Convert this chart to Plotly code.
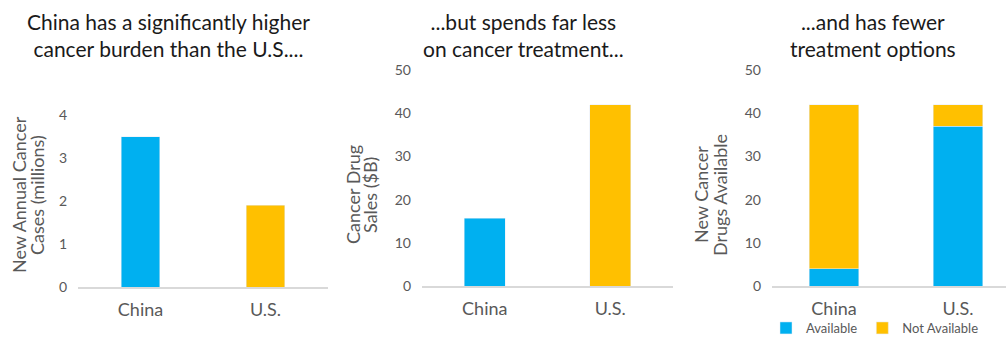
import plotly.graph_objects as go

W, H = 1006, 337

countries = ["China", "U.S."]
new_cases_millions = [3.5, 1.9]
drug_sales_bn = [15.7, 42]
drugs_available = [4, 37]
drugs_not_available = [38, 5]

titles = [
    "China has a significantly higher<br>cancer burden than the U.S....",
    "...but spends far less<br>on cancer treatment...",
    "...and has fewer<br>treatment options",
]
y_title_lines = [
    ["New Annual Cancer", "Cases (millions)"],
    ["Cancer Drug", "Sales ($B)"],
    ["New Cancer", "Drugs Available"],
]

BLUE = "#00B0F0"
GOLD = "#FFC000"
GRAY = "#595959"
FONT = "Lato"


def px_x(p):
    return p / W


def px_y(p):
    return (H - p) / H


fig = go.Figure()

fig.add_trace(go.Bar(x=countries, y=new_cases_millions, marker_color=[BLUE, GOLD],
                     width=0.31, xaxis="x", yaxis="y", showlegend=False))
fig.add_trace(go.Bar(x=countries, y=drug_sales_bn, marker_color=[BLUE, GOLD],
                     width=0.33, xaxis="x2", yaxis="y2", showlegend=False))
fig.add_trace(go.Bar(x=countries, y=drugs_available, marker_color=BLUE, name="Available",
                     width=0.40, xaxis="x3", yaxis="y3"))
fig.add_trace(go.Bar(x=countries, y=drugs_not_available, marker_color=GOLD, name="Not Available",
                     width=0.40, xaxis="x3", yaxis="y3"))

xcommon = dict(type="category", showgrid=False, showline=True, linecolor="#D9D9D9",
               linewidth=1.5, ticks="", ticklabelstandoff=6,
               tickfont=dict(family=FONT, size=18, color=GRAY), fixedrange=True)
ycommon = dict(showgrid=False, zeroline=False, showline=False, ticks="", ticklabelstandoff=10,
               tickfont=dict(family=FONT, size=14, color=GRAY), fixedrange=True)

layout = dict(
    width=W, height=H, margin=dict(l=0, r=0, t=0, b=0, autoexpand=False),
    paper_bgcolor="white", plot_bgcolor="white", barmode="stack",
    font=dict(family=FONT),
    xaxis=dict(xcommon, domain=[px_x(78), px_x(328)], range=[-0.5, 1.5], anchor="y"),
    yaxis=dict(ycommon, domain=[px_y(287), px_y(115)], range=[0, 4], dtick=1, anchor="x"),
    xaxis2=dict(xcommon, domain=[px_x(422), px_x(673)], range=[-0.5, 1.5], anchor="y2"),
    yaxis2=dict(ycommon, domain=[px_y(286), px_y(70)], range=[0, 50], dtick=10, anchor="x2"),
    xaxis3=dict(xcommon, domain=[px_x(772), px_x(1006)], range=[-0.5, 1.387], anchor="y3"),
    yaxis3=dict(ycommon, domain=[px_y(286), px_y(70)], range=[0, 50], dtick=10, anchor="x3"),
    showlegend=True,
    legend=dict(orientation="h", x=px_x(766), y=px_y(328), xanchor="left", yanchor="middle",
                traceorder="normal",
                font=dict(family=FONT, size=13, color=GRAY), itemwidth=30,
                tracegroupgap=0, bgcolor="rgba(0,0,0,0)"),
)
fig.update_layout(**layout)

title_x = [168, 523, 873]
ytitle_x = [[19, 37], [353, 370], [701, 720]]
for i in range(3):
    fig.add_annotation(text=titles[i], x=px_x(title_x[i]), y=px_y(35),
                       xref="paper", yref="paper", showarrow=False,
                       xanchor="center", yanchor="middle",
                       font=dict(family=FONT, size=21, color="#1A1A1A"))
    for j in range(2):
        fig.add_annotation(text=y_title_lines[i][j], x=px_x(ytitle_x[i][j]), y=px_y(195),
                           xref="paper", yref="paper", showarrow=False, textangle=-90,
                           xanchor="center", yanchor="middle",
                           font=dict(family=FONT, size=18, color=GRAY))

fig.write_html("out.html", config={"displayModeBar": False})
